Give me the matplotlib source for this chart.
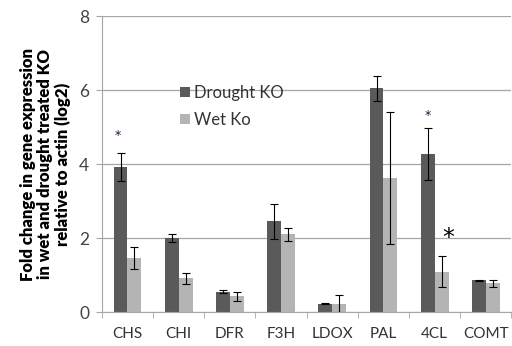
import numpy as np
import matplotlib.pyplot as plt

genes = ["CHS", "CHI", "DFR", "F3H", "LDOX", "PAL", "4CL", "COMT"]
drought_ko = [3.92, 2.00, 0.55, 2.46, 0.23, 6.05, 4.28, 0.86]
drought_err = [0.38, 0.10, 0.04, 0.47, 0.02, 0.34, 0.70, 0.02]
wet_ko = [1.46, 0.92, 0.43, 2.10, 0.23, 3.62, 1.09, 0.78]
wet_err = [0.29, 0.15, 0.12, 0.18, 0.22, 1.78, 0.42, 0.10]

plt.rcParams['font.family'] = ['Lato', 'DejaVu Sans']

fig = plt.figure(figsize=(5.12, 3.46), dpi=100)
ax = fig.add_axes([0.199, 0.098, 0.80, 0.855])

x = np.arange(len(genes))
w = 0.27
ekw = dict(ecolor="black", capsize=3, elinewidth=0.8, capthick=0.8)
ax.bar(x - w / 2, drought_ko, w, yerr=drought_err, color="#5a5a5a",
       label="Drought KO", error_kw=ekw, zorder=2)
ax.bar(x + w / 2, wet_ko, w, yerr=wet_err, color="#b4b4b4",
       label="Wet Ko", error_kw=ekw, zorder=2)

# significance marks
star = dict(ha="center", va="center", family="DejaVu Sans")
ax.text(x[0] - w / 2 - 0.05, 4.78, "*", fontsize=9, color="#1a1a40", **star)
ax.text(x[6] - w / 2, 5.32, "*", fontsize=9, color="#1a1a40", **star)
ax.text(x[6] + w / 2 + 0.12, 2.0, "*", fontsize=17, color="black", **star)

ax.set_xlim(-0.5, len(genes) - 0.5)
ax.set_ylim(0, 8)
ax.set_yticks([0, 2, 4, 6, 8])
ax.yaxis.grid(True, color="#a6a6a6", linewidth=0.9, zorder=0)
ax.set_axisbelow(True)

ax.set_xticks(x)
ax.set_xticklabels(genes, fontsize=11, color="#333333")
ax.set_xticks(np.arange(len(genes) + 1) - 0.5, minor=True)
ax.tick_params(axis="x", which="major", length=0, pad=11)
ax.tick_params(axis="x", which="minor", length=4, color="#a6a6a6")
ax.tick_params(axis="y", length=4, color="#a6a6a6", labelsize=12.5,
               labelcolor="#444444", pad=5)

for s in ["top", "right"]:
    ax.spines[s].set_visible(False)
ax.spines["left"].set_color("#a6a6a6")
ax.spines["bottom"].set_color("#a6a6a6")

ax.set_ylabel("Fold change in gene expression\nin wet and drought treated KO\nrelative to actin (log2)",
              fontsize=12, fontweight="heavy", linespacing=1.1, labelpad=6)

ax.legend(loc="upper left", bbox_to_anchor=(0.155, 0.82), frameon=False,
          fontsize=12, handlelength=0.55, handleheight=0.55, handletextpad=0.25,
          labelspacing=0.7, labelcolor="#333333")

fig.savefig("out.png", dpi=100)
